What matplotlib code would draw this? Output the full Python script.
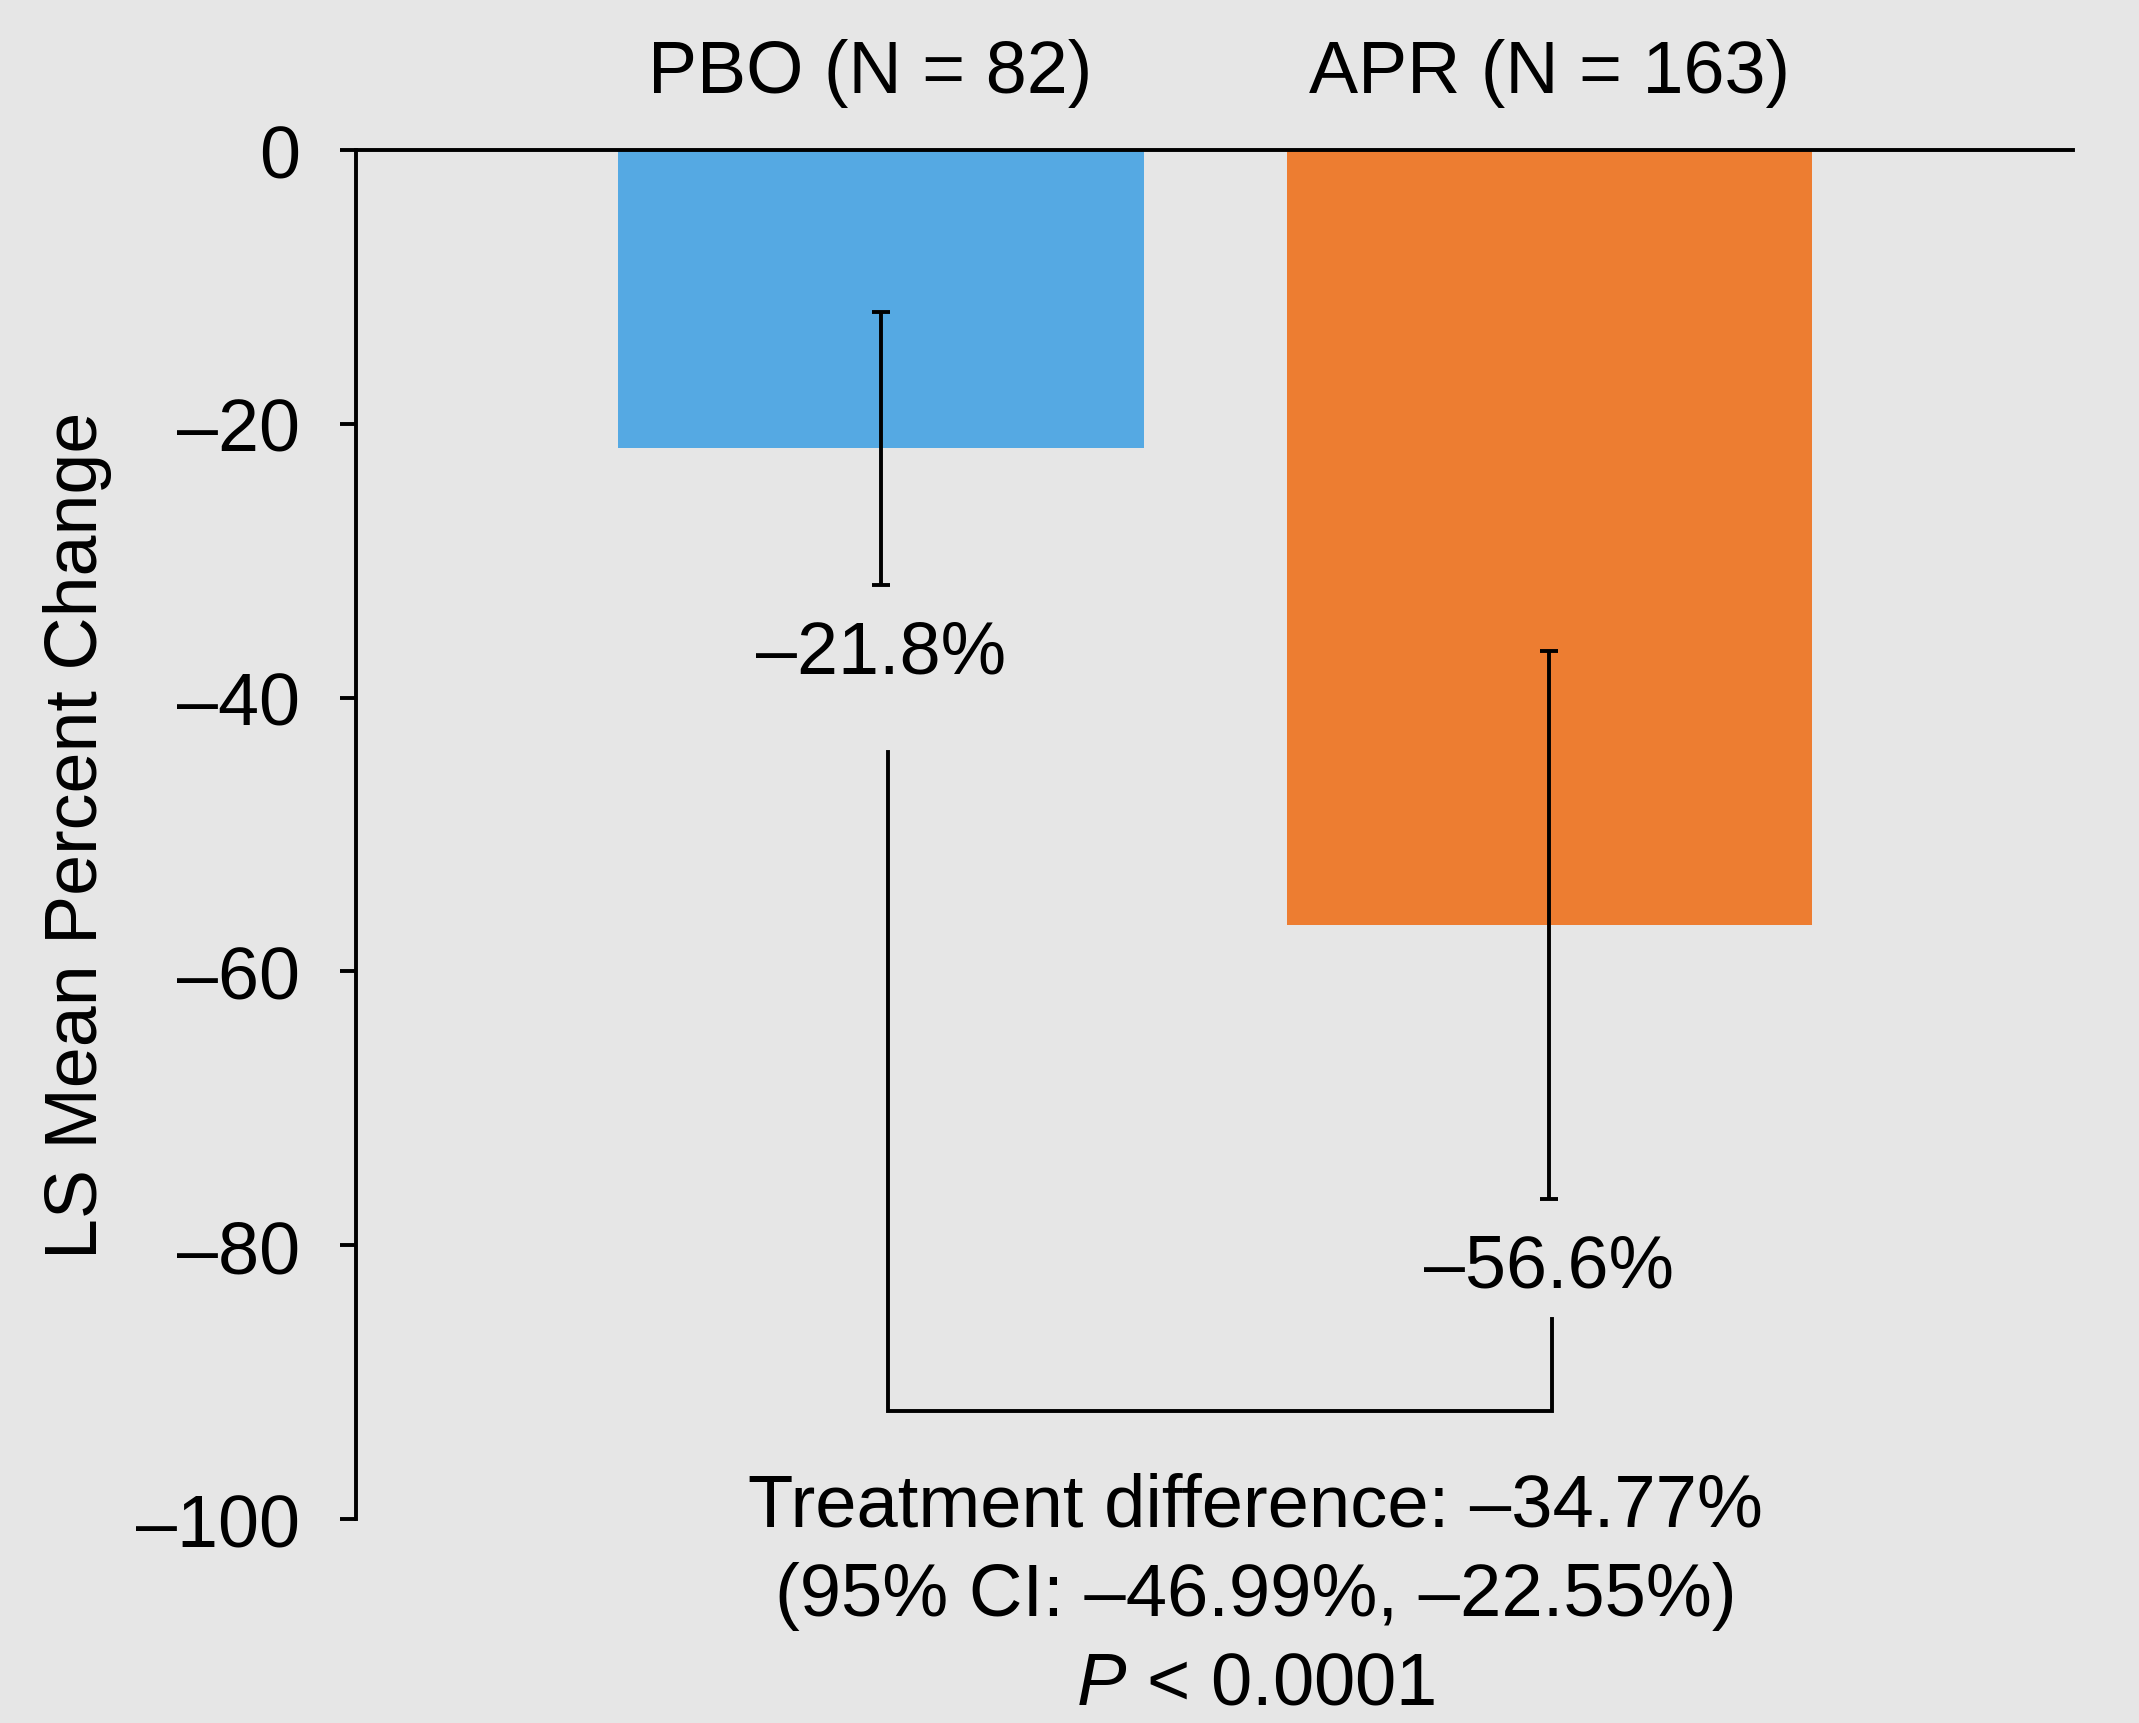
import matplotlib
matplotlib.use("Agg")
import matplotlib.pyplot as plt
import matplotlib.transforms as mtransforms

plt.rcParams['font.family'] = ['Liberation Sans', 'DejaVu Sans']
plt.rcParams['mathtext.fontset'] = 'custom'
plt.rcParams['mathtext.it'] = 'Liberation Sans:italic'
plt.rcParams['mathtext.rm'] = 'Liberation Sans'

# ---- data ----
groups = ["PBO (N = 82)", "APR (N = 163)"]
means = [-21.8, -56.6]
ci_half = [10.0, 20.0]
value_labels = ["\u201321.8%", "\u201356.6%"]
colors = ["#55A9E3", "#ED7D31"]
yticks = [0, -20, -40, -60, -80, -100]
ytick_labels = ["0", "\u201320", "\u201340", "\u201360", "\u201380", "\u2013100"]
bracket_left_top = -44.0
bracket_right_top = -85.4
bracket_bottom = -92.1
summary_lines = ["Treatment difference: \u201334.77%",
                 "(95% CI: \u201346.99%, \u201322.55%)",
                 r"$\mathit{P}$ < 0.0001"]

FS = 53
LW = 2.8
bg = "#E6E6E6"

fig = plt.figure(figsize=(21.39, 17.24), dpi=100, facecolor=bg)
ax = fig.add_axes([0.1664, 0.1183, 0.8027, 0.7941], facecolor=bg)

x = list(range(len(groups)))
ax.bar(x, means, width=0.786, color=colors, zorder=2)
ax.errorbar(x, means, yerr=ci_half, fmt='none', ecolor='black',
            elinewidth=LW, capsize=6.5, capthick=LW, zorder=3)

ax.set_xlim(-0.786, 1.784)
ax.set_ylim(-100, 0)
ax.axhline(0, color='black', lw=LW, zorder=4, clip_on=False)

for s in ['top', 'right', 'bottom']:
    ax.spines[s].set_visible(False)
ax.spines['left'].set_linewidth(LW)
ax.set_xticks([])
ax.set_yticks(yticks)
ax.set_yticklabels(ytick_labels, fontsize=FS)
ax.tick_params(axis='y', length=11.5, width=LW, pad=29)
ax.set_ylabel("LS Mean Percent Change", fontsize=FS)
ax.yaxis.set_label_coords(-0.142, 0.5)

# group titles above axes
trans = mtransforms.blended_transform_factory(ax.transData, ax.transAxes)
title_dx = [-8, 0]
for xi, g, dx in zip(x, groups, title_dx):
    ax.annotate(g, xy=(xi, 1.0 + 78 / 1369), xycoords=trans,
                xytext=(dx, 0), textcoords='offset points',
                ha='center', va='center', fontsize=FS)

# value labels under error bars
for xi, m, h, lab in zip(x, means, ci_half, value_labels):
    ax.annotate(lab, xy=(xi, m - h), xytext=(0, -49), textcoords='offset points',
                ha='center', va='center', fontsize=FS)

# bracket
bx0, bx1 = x[0] + 0.01, x[1] + 0.005
ax.plot([bx0, bx0, bx1, bx1],
        [bracket_left_top, bracket_bottom, bracket_bottom, bracket_right_top],
        color='black', lw=LW, zorder=3, solid_joinstyle='miter')

# summary text
ys = [0.1259, 0.0742, 0.0226]
for yy, t in zip(ys, summary_lines):
    fig.text(0.587, yy, t, ha='center', va='center', fontsize=FS + 0.5)

fig.savefig("out.png", dpi=100, facecolor=bg)
